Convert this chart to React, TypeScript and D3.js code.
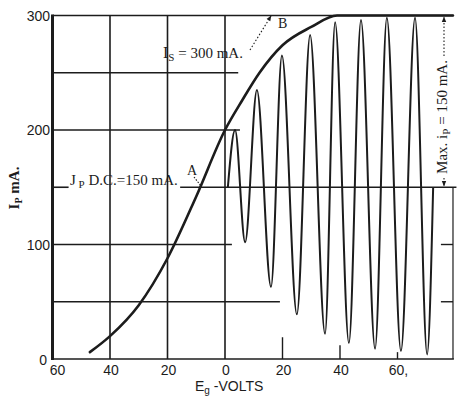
import React from "react";
import * as d3 from "d3";

// Transfer characteristic (envelope): grid volts (negative left) vs plate mA
const envelopeV = [-47, -40, -30, -20, -10, 0, 6, 12, 20, 30, 39, 79.3];
const envelopeI = [6, 20, 47, 88, 142, 200, 226, 250, 274, 290, 300, 300];

// Oscillating plate current (peaks and troughs)
const oscV = [1, 3.5, 7, 11.1, 16, 19.8, 25, 29.6, 34.8, 38.3, 43.1, 47.3, 52.2, 56.3, 61.2, 66.1, 70.3, 72.4];
const oscI = [150, 200, 102, 235, 63, 265, 39, 283, 22, 294, 14, 296, 9, 298, 7, 298, 4, 150];

const yTicks = [0, 100, 200, 300];
const xTicks = [-60, -40, -20, 0, 20, 40, 60];
const xTickLabels = ["60", "40", "20", "0", "20", "40", "60,"];

const INK = "#1c1c1c";
const SERIF = "'Liberation Serif', 'Times New Roman', serif";
const SANS = "'Liberation Sans', Arial, sans-serif";

export default function App() {
  const W = 458;
  const H = 397;
  const x = d3.scaleLinear().domain([-60, 80]).range([52.5, 455]);
  const y = d3.scaleLinear().domain([0, 300]).range([359, 15.5]);

  const line = d3
    .line<[number, number]>()
    .x((d) => x(d[0]))
    .y((d) => y(d[1]))
    .curve(d3.curveMonotoneX);

  const envPts: [number, number][] = envelopeV.map((v, i) => [v, envelopeI[i]]);
  const oscPts: [number, number][] = oscV.map((v, i) => [v, oscI[i]]);

  // horizontal grid segments [level, fromV, toV]
  const hSegs: [number, number, number][] = [
    [50, -60, 19.1],
    [100, -60, 2.4],
    [150, -60, -54.4],
    [150, -15.6, 80.5],
    [200, -60, 5.2],
    [250, -60, 4.6],
    [300, -60, 79.3],
    [0, -60, 79.6],
  ];
  const vGrid = [-40, -20, 0];

  const seg = (x1: number, y1: number, x2: number, y2: number, w = 1.6, dash?: string, key?: string) => (
    <line key={key} x1={x1} y1={y1} x2={x2} y2={y2} stroke={INK} strokeWidth={w} strokeDasharray={dash} />
  );

  return (
    <svg
      width={W}
      height={H}
      style={{ position: "absolute", left: 0, top: 0, background: "#fff" }}
      viewBox={`0 0 ${W} ${H}`}
    >
      <defs>
        <marker id="ah" viewBox="0 0 10 10" refX="9" refY="5" markerWidth="5" markerHeight="5" orient="auto">
          <path d="M0,1 L10,5 L0,9 Z" fill={INK} />
        </marker>
      </defs>
      <rect x={0} y={0} width={W} height={H} fill="#fff" />

      {/* grid */}
      {hSegs.map(([lv, a, b], i) => seg(x(a), y(lv), x(b), y(lv), 1.6, undefined, "h" + i))}
      {vGrid.map((v) => seg(x(v), y(300), x(v), y(0), 1.6, undefined, "v" + v))}
      {seg(x(-60), y(300) - 1, x(-60), y(0) + 1, 3)}
      {/* right frame (lower half) and ticks */}
      {seg(x(79.3), y(150), x(79.3), y(0), 1.2)}
      {seg(x(75.1), y(100), x(79.3), y(100), 1.4)}
      {seg(x(75.1), y(50), x(79.3), y(50), 1.4)}
      {/* bottom ticks on positive side */}
      {seg(x(20), y(19), x(20), y(0), 1.4)}
      {seg(x(40), y(12), x(40), y(0), 1.4)}
      {seg(x(60), y(6), x(60), y(0), 1.4)}

      {/* curves */}
      <path d={line(oscPts) || ""} fill="none" stroke={INK} strokeWidth={2} strokeLinejoin="round" />
      <path d={line(envPts) || ""} fill="none" stroke={INK} strokeWidth={2.6} strokeLinecap="round" />

      {/* tick labels */}
      {yTicks.map((t) => (
        <text
          key={"yt" + t}
          x={t === 0 ? 47 : 50}
          y={t === 0 ? y(t) + 6 : y(t) + 5}
          textAnchor="end"
          fontFamily={SANS}
          fontSize={14}
          fill={INK}
        >
          {t}
        </text>
      ))}
      {xTicks.map((t, i) => (
        <text
          key={"xt" + i}
          x={x(t) + (t === -60 ? 5 : t === 60 ? 1 : 1)}
          y={375}
          textAnchor="middle"
          fontFamily={SANS}
          fontSize={14}
          fill={INK}
        >
          {xTickLabels[i]}
        </text>
      ))}

      {/* axis titles */}
      <text x={195} y={391} fontFamily={SANS} fontSize={14} fill={INK}>
        E<tspan fontSize={10} dy={3}>g</tspan>
        <tspan dy={-3}> -VOLTS</tspan>
      </text>
      <text
        transform="translate(19,188) rotate(-90)"
        textAnchor="middle"
        fontFamily={SERIF}
        fontSize={15}
        fontWeight="bold"
        fill={INK}
      >
        I<tspan fontSize={10} dy={3}>P</tspan>
        <tspan dy={-3}> mA.</tspan>
      </text>

      {/* annotations */}
      <text x={163} y={58} fontFamily={SERIF} fontSize={15} fill={INK}>
        <tspan fontSize={16}>I</tspan>
        <tspan fontSize={11} dy={3}>S</tspan>
        <tspan dy={-3}> = 300 mA.</tspan>
      </text>
      <text x={70} y={185} fontFamily={SERIF} fontSize={15} fill={INK}>
        J<tspan fontSize={11} dy={3}> P</tspan>
        <tspan dy={-3}> D.C.=150 mA.</tspan>
      </text>
      <text x={187} y={175} fontFamily={SERIF} fontSize={14} fill={INK}>
        A
      </text>
      <text x={278} y={28} fontFamily={SERIF} fontSize={14} fill={INK}>
        B
      </text>
      {seg(194, 177, 201, 186, 1.1, "1.5,1.5")}
      <line x1={250} y1={50} x2={271} y2={16} stroke={INK} strokeWidth={1.1} strokeDasharray="1.5,2" markerEnd="url(#ah)" />

      <text
        transform="translate(447,117) rotate(-90)"
        textAnchor="middle"
        fontFamily={SERIF}
        fontSize={15}
        fill={INK}
      >
        Max. i<tspan fontSize={11} dy={3}>P</tspan>
        <tspan dy={-3}> = 150 mA.</tspan>
      </text>
      <line x1={444} y1={56} x2={444} y2={17} stroke={INK} strokeWidth={1.1} strokeDasharray="1.5,2" markerEnd="url(#ah)" />
      <line x1={444} y1={178} x2={444} y2={186} stroke={INK} strokeWidth={1.1} strokeDasharray="1.5,1.5" markerEnd="url(#ah)" />
    </svg>
  );
}
